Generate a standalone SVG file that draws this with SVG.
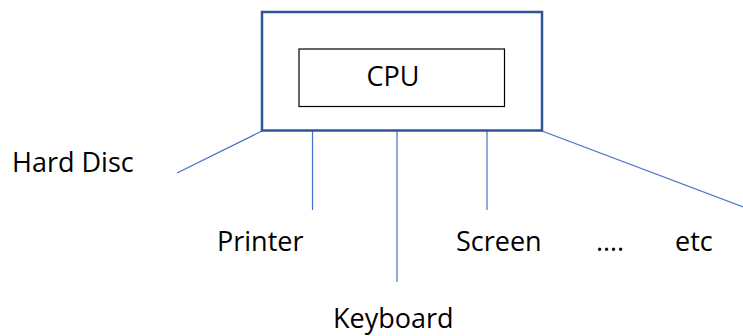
<svg xmlns="http://www.w3.org/2000/svg" width="743" height="336" viewBox="0 0 743 336">
  <style>
    .lbl { font-family: "Open Sans", "Liberation Sans", sans-serif; font-size: 27px; fill: #000; }
    .link { stroke: #4472C4; stroke-width: 1.2; fill: none; }
  </style>
  <rect width="743" height="336" fill="#fff"/>

  <!-- connectors from the computer box to its devices -->
  <g id="connectors">
    <line class="link" x1="262" y1="131" x2="177" y2="173"/>
    <line class="link" x1="312.5" y1="131" x2="312.5" y2="210"/>
    <line class="link" x1="397" y1="131" x2="397" y2="282"/>
    <line class="link" x1="487" y1="131" x2="487" y2="210"/>
    <line class="link" x1="542" y1="131" x2="746" y2="208"/>
  </g>

  <g id="computer">
    <rect x="262" y="12" width="280" height="118.5" fill="none" stroke="#2F5597" stroke-width="2.5"/>
  </g>

  <g id="cpu">
    <rect x="299" y="49" width="205.5" height="57.5" fill="none" stroke="#000" stroke-width="1.2"/>
    <text class="lbl" x="393" y="86" text-anchor="middle">CPU</text>
  </g>

  <g id="hard-disc"><text class="lbl" x="12" y="172">Hard Disc</text></g>
  <g id="printer"><text class="lbl" x="217" y="251">Printer</text></g>
  <g id="screen"><text class="lbl" x="456" y="251">Screen</text></g>
  <g id="more"><text class="lbl" x="596" y="251">….</text></g>
  <g id="etc"><text class="lbl" x="675" y="251">etc</text></g>
  <g id="keyboard"><text class="lbl" x="333" y="328">Keyboard</text></g>
</svg>
